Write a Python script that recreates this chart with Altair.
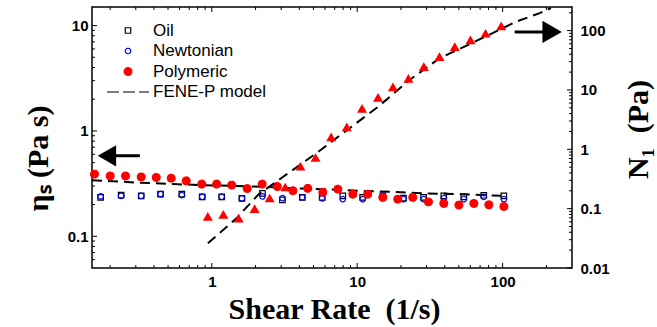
import altair as alt
import pandas as pd

# ---------------- data ----------------
SERIES = ["Oil", "Newtonian", "Polymeric", "FENE-P model"]

poly_x = [0.156, 0.2, 0.255, 0.327, 0.415, 0.526, 0.667, 0.853, 1.08, 1.37, 1.75, 2.22, 2.82,
          3.61, 4.57, 5.8, 7.36, 9.33, 11.8, 15.0, 19.0, 24.1, 30.9, 39.4, 50.0, 63.4, 80.4, 102]
poly_eta = [0.389, 0.374, 0.374, 0.366, 0.362, 0.356, 0.336, 0.313, 0.313, 0.306, 0.284, 0.313, 0.297,
            0.271, 0.285, 0.262, 0.280, 0.251, 0.251, 0.234, 0.225, 0.234, 0.212, 0.205, 0.198, 0.205, 0.199, 0.192]

newt_x = [0.172, 0.238, 0.327, 0.444, 0.622, 0.859, 1.17, 1.61, 2.23, 3.06, 4.19, 5.74, 7.96,
          10.9, 15.0, 20.8, 28.6, 39.4, 54.1, 74.2, 102]
newt_eta = [0.239, 0.242, 0.242, 0.251, 0.246, 0.237, 0.237, 0.229, 0.239, 0.230, 0.234, 0.229, 0.225,
            0.225, 0.242, 0.225, 0.225, 0.230, 0.225, 0.237, 0.225]
oil_x = newt_x
oil_eta = [0.234, 0.246, 0.242, 0.251, 0.251, 0.237, 0.237, 0.229, 0.255, 0.222, 0.234, 0.234, 0.242,
           0.234, 0.242, 0.230, 0.234, 0.242, 0.237, 0.245, 0.242]

n1_x = [0.939, 1.20, 1.53, 1.97, 2.50, 3.20, 4.07, 5.17, 6.62, 8.48, 10.8, 13.9, 17.6, 22.5,
        28.7, 36.8, 46.9, 60.1, 76.3, 97.8]
n1_val = [0.0741, 0.0802, 0.0693, 0.1, 0.151, 0.232, 0.519, 0.727, 1.62, 2.39, 4.89, 7.50, 11.3, 15.7,
          24.7, 36.4, 53.7, 69.7, 90.4, 120]

fene_eta_x = [0.15, 0.3, 0.54, 0.87, 1.39, 2.24, 3.6, 5.8, 10.1, 17.1, 29.6, 50.4, 100]
fene_eta_y = [0.341, 0.324, 0.313, 0.306, 0.301, 0.295, 0.285, 0.280, 0.270, 0.264, 0.255, 0.251, 0.242]

fene_n1_x = [0.94, 1.47, 2.1, 5.2, 8.2, 13.9, 22.9, 36.8, 60, 95, 124, 180, 215]
fene_n1_y = [0.026, 0.068, 0.175, 0.85, 1.97, 5.2, 14.7, 34.2, 60, 103, 142, 197, 240]

# arrows (data units): left arrow on viscosity scale, right arrow on N1 scale
arrow_l_x = [0.19, 0.32]
arrow_l_y = [0.58]
arrow_r_x = [121, 219]
arrow_r_y = [95]

# ---------------- layout ----------------
W, H = 480, 261
X_DOMAIN = [0.15, 300]
ETA_DOMAIN = [0.05, 15]
N1_DOMAIN = [0.01, 250]

xs = alt.Scale(type="log", domain=X_DOMAIN, nice=False)
ys_eta = alt.Scale(type="log", domain=ETA_DOMAIN, nice=False)
ys_n1 = alt.Scale(type="log", domain=N1_DOMAIN, nice=False)

LABEL_FONT = "Liberation Sans"
TITLE_FONT = "Liberation Serif"


def log_ticks(lo, hi, mantissas):
    out = []
    for e in range(-3, 4):
        for m in mantissas:
            v = round(m * 10 ** e, 6)
            if lo < v < hi:
                out.append(v)
    return out


x_major = log_ticks(*X_DOMAIN, [1])
x_minor = log_ticks(*X_DOMAIN, range(2, 10))
eta_major = log_ticks(*ETA_DOMAIN, [1])
eta_minor = log_ticks(*ETA_DOMAIN, range(2, 10))
n1_major = log_ticks(0.005, 250, [1])
n1_minor = log_ticks(*N1_DOMAIN, range(2, 10))

axis_common = dict(ticks=False, domain=False, grid=False, labelFont=LABEL_FONT,
                   labelFontWeight="bold", labelFontSize=15, labelColor="black",
                   labelFlush=False, labelOverlap=False, format="~g",
                   titleFont=TITLE_FONT, titleFontWeight="bold", titleColor="black",
                   titleFontSize=30, titleAlign="center", titleBaseline="alphabetic")

x_axis = alt.Axis(orient="bottom", values=[1, 10, 100], labelPadding=6,
                  title="Shear Rate \u00a0(1/s)", titleX=W / 2 + 2, titleY=50, **axis_common)
left_axis = alt.Axis(orient="left", values=[0.1, 1, 10], labelPadding=4,
                     title="ηₛ (Pa s)", titleAngle=270, titleX=-45, titleY=151, **axis_common)
right_axis = alt.Axis(orient="right", values=[0.01, 0.1, 1, 10, 100], labelPadding=8,
                      title="N₁ \u00a0(Pa)", titleAngle=270, titleX=75, titleY=122, **axis_common)

X = lambda f: alt.X(f, scale=xs, axis=x_axis)
YL = lambda f: alt.Y(f, scale=ys_eta, axis=left_axis)
YR = lambda f: alt.Y(f, scale=ys_n1, axis=right_axis)


def xtick_layer(vals, length, top):
    d = pd.DataFrame({"v": vals})
    y1, y2 = (0, length) if top else (H, H - length)
    return alt.Chart(d).mark_rule(color="black", strokeWidth=1).encode(
        x=X("v:Q"), y=alt.value(y1), y2=alt.value(y2))


def ytick_layer(vals, length, right):
    d = pd.DataFrame({"v": vals})
    x1, x2 = (W - length, W) if right else (0, length)
    return alt.Chart(d).mark_rule(color="black", strokeWidth=1).encode(
        y=(YR if right else YL)("v:Q"), x=alt.value(x1), x2=alt.value(x2))


# points table for the legend-bearing layer
pts = pd.DataFrame({
    "x": oil_x + newt_x + poly_x,
    "eta": oil_eta + newt_eta + poly_eta,
    "series": ["Oil"] * len(oil_x) + ["Newtonian"] * len(newt_x) + ["Polymeric"] * len(poly_x),
})

legend = alt.Legend(title=None, orient="none", legendX=27.5, legendY=15, padding=0,
                    labelFont=LABEL_FONT, labelFontSize=17, labelColor="black",
                    labelOffset=16.5, rowPadding=2.5, symbolStrokeWidth=1.2)

points = alt.Chart(pts).mark_point(strokeWidth=1.2, opacity=1).encode(
    x=X("x:Q"),
    y=YL("eta:Q"),
    shape=alt.Shape("series:N", scale=alt.Scale(domain=SERIES,
                    range=["square", "circle", "circle", "M-2.8,0L2.8,0"]), legend=legend),
    stroke=alt.Stroke("series:N", scale=alt.Scale(domain=SERIES,
                      range=["black", "#0000ff", "#ff0000", "black"]), legend=legend),
    fill=alt.Fill("series:N", scale=alt.Scale(domain=SERIES,
                  range=["transparent", "transparent", "#ff0000", "transparent"]), legend=legend),
    size=alt.Size("series:N", scale=alt.Scale(type="ordinal", domain=SERIES,
                  range=[30, 30, 60, 225]), legend=legend),
    strokeDash=alt.StrokeDash("series:N", scale=alt.Scale(domain=SERIES,
                              range=[[1, 0], [1, 0], [1, 0], [12, 4]]), legend=legend),
)

fene_eta = alt.Chart(pd.DataFrame({"x": fene_eta_x, "y": fene_eta_y})).mark_line(
    color="black", strokeWidth=2, strokeDash=[10, 6]).encode(x=X("x:Q"), y=YL("y:Q"))

arrow_l_shaft = alt.Chart(pd.DataFrame({"x": [arrow_l_x[0]], "x2": [arrow_l_x[1]], "y": arrow_l_y})).mark_rule(
    color="black", strokeWidth=3).encode(x=X("x:Q"), x2="x2:Q", y=YL("y:Q"))
arrow_l_head = alt.Chart(pd.DataFrame({"x": [arrow_l_x[0]], "y": arrow_l_y})).mark_point(
    shape="triangle-left", filled=True, color="black", size=450, opacity=1).encode(
    x=X("x:Q"), y=YL("y:Q"))

left = alt.layer(
    xtick_layer(x_major, 5, False), xtick_layer(x_minor, 3, False),
    xtick_layer(x_major, 5, True), xtick_layer(x_minor, 3, True),
    ytick_layer(eta_major, 5, False), ytick_layer(eta_minor, 3, False),
    fene_eta, points, arrow_l_shaft, arrow_l_head,
)

fene_n1 = alt.Chart(pd.DataFrame({"x": fene_n1_x, "y": fene_n1_y})).mark_line(
    color="black", strokeWidth=2, strokeDash=[10, 6]).encode(x=X("x:Q"), y=YR("y:Q"))

tri = alt.Chart(pd.DataFrame({"x": n1_x, "n1": n1_val})).mark_point(
    shape="triangle-up", filled=True, color="#ff0000", size=100, opacity=1).encode(
    x=X("x:Q"), y=YR("n1:Q"))

arrow_r_shaft = alt.Chart(pd.DataFrame({"x": [arrow_r_x[0]], "x2": [arrow_r_x[1]], "y": arrow_r_y})).mark_rule(
    color="black", strokeWidth=3).encode(x=X("x:Q"), x2="x2:Q", y=YR("y:Q"))
arrow_r_head = alt.Chart(pd.DataFrame({"x": [arrow_r_x[1]], "y": arrow_r_y})).mark_point(
    shape="triangle-right", filled=True, color="black", size=500, opacity=1).encode(
    x=X("x:Q"), y=YR("y:Q"))

right = alt.layer(
    ytick_layer(n1_major, 5, True), ytick_layer(n1_minor, 3, True),
    fene_n1, tri, arrow_r_shaft, arrow_r_head,
)

chart = alt.layer(left, right).resolve_scale(y="independent").properties(
    width=W, height=H,
    padding={"left": 92, "top": 7, "right": 657 - 92 - W, "bottom": 327 - 7 - H},
    autosize=alt.AutoSizeParams(type="none"),
    background="white",
).configure_view(stroke="black", strokeWidth=1.5)

chart.save("out.html", embed_options={"renderer": "svg", "actions": False})
